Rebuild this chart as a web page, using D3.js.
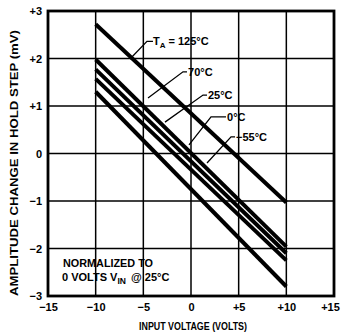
<!DOCTYPE html>
<html><head><meta charset="utf-8">
<script src="https://cdn.jsdelivr.net/npm/d3@7"></script>
<style>
html,body{margin:0;padding:0;background:#fff;}
svg{display:block;font-family:"Liberation Sans",Arial,Helvetica,sans-serif;font-weight:bold;}
</style>
</head><body>
<svg id="chart" width="341" height="333"></svg>
<script>
// Hold step vs input voltage, one line per ambient temperature
const xTicks = [-15, -10, -5, 0, 5, 10, 15];
const yTicks = [-3, -2, -1, 0, 1, 2, 3];
const xTickLabels = ["−15", "−10", "−5", "0", "+5", "+10", "+15"];
const yTickLabels = ["−3", "−2", "−1", "0", "+1", "+2", "+3"];

const vin = [-10, 10];                 // input voltage (V)
const temps = ["125°C", "70°C", "25°C", "0°C", "−55°C"];
const step125 = [2.72, -1.03];         // hold step (mV)
const step70 = [1.98, -1.96];
const step25 = [1.77, -2.10];
const step0 = [1.57, -2.25];
const stepM55 = [1.30, -2.80];
const seriesValues = [step125, step70, step25, step0, stepM55];

// Label anchors (V, mV) and leader polylines for each temperature
const labelAnchor = [[-3.99, 2.28], [-0.31, 1.63], [1.78, 1.15], [3.78, 0.68], [4.72, 0.26]];
const leaderV = [[-3.99, -4.62, -6.40], [-0.42, -0.84, -4.51], [1.68, 1.26, -2.73], [3.67, 2.10, -0.21], [4.62, 4.20, 1.68]];
const leaderMV = [[2.36, 2.36, 1.99], [1.72, 1.72, 1.17], [1.23, 1.23, 0.66], [0.77, 0.77, 0.18], [0.35, 0.35, -0.20]];

const svg = d3.select("#chart");
const x = d3.scaleLinear().domain([-15, 15]).range([48, 334]);
const y = d3.scaleLinear().domain([-3, 3]).range([296, 11]);

// grid
const g = svg.append("g");
g.selectAll(".gx").data(xTicks.slice(1, -1)).join("line")
  .attr("x1", d => x(d)).attr("x2", d => x(d))
  .attr("y1", y(3)).attr("y2", y(-3))
  .attr("stroke", "#000").attr("stroke-width", 1.5);
g.selectAll(".gy").data(yTicks.slice(1, -1)).join("line")
  .attr("y1", d => y(d)).attr("y2", d => y(d))
  .attr("x1", x(-15)).attr("x2", x(15))
  .attr("stroke", "#000").attr("stroke-width", 1.5);

// frame
g.append("rect")
  .attr("x", x(-15)).attr("y", y(3))
  .attr("width", x(15) - x(-15)).attr("height", y(-3) - y(3))
  .attr("fill", "none").attr("stroke", "#000").attr("stroke-width", 2.8);

// axes (labels only)
const xAxis = d3.axisBottom(x).tickValues(xTicks)
  .tickFormat((d, i) => xTickLabels[i]).tickSize(0).tickPadding(7);
svg.append("g").attr("transform", `translate(0,${y(-3)})`).call(xAxis)
  .call(a => a.select(".domain").remove())
  .selectAll("text").attr("font-size", 11).attr("font-family", null).attr("fill", "#000")
  .attr("dx", (d, i) => i === xTicks.length - 1 ? -4 : 0);

const yAxis = d3.axisLeft(y).tickValues(yTicks)
  .tickFormat((d, i) => yTickLabels[i]).tickSize(0).tickPadding(6);
svg.append("g").attr("transform", `translate(${x(-15)},0)`).call(yAxis)
  .call(a => a.select(".domain").remove())
  .selectAll("text").attr("font-size", 11).attr("font-family", null).attr("fill", "#000");

// data lines
const line = d3.line().x((d, i) => x(vin[i])).y(d => y(d));
svg.append("g").selectAll("path").data(seriesValues).join("path")
  .attr("d", d => line(d))
  .attr("fill", "none").attr("stroke", "#000").attr("stroke-width", 4)
  .attr("stroke-linecap", "butt");

// leaders
const leaderLine = d3.line();
svg.append("g").selectAll("path").data(leaderV).join("path")
  .attr("d", (d, i) => leaderLine(d.map((v, j) => [x(v), y(leaderMV[i][j])])))
  .attr("fill", "none").attr("stroke", "#000").attr("stroke-width", 1.3);

// temperature labels
const labels = svg.append("g").attr("font-size", 11);
temps.forEach((t, i) => {
  const tx = labels.append("text")
    .attr("x", x(labelAnchor[i][0])).attr("y", y(labelAnchor[i][1]));
  if (i === 0) {
    tx.append("tspan").text("T");
    tx.append("tspan").attr("font-size", 8).attr("dy", 3).text("A");
    tx.append("tspan").attr("dy", -3).text(" = " + t);
  } else {
    tx.text(t);
  }
});

// normalization note
const note = svg.append("g").attr("font-size", 11);
note.append("text").attr("x", 63).attr("y", 267).attr("textLength", 90)
  .attr("lengthAdjust", "spacingAndGlyphs").text("NORMALIZED TO");
const n2 = note.append("text").attr("x", 62).attr("y", 281);
n2.append("tspan").text("0 VOLTS V");
n2.append("tspan").attr("font-size", 8.5).attr("dy", 3).text("IN");
n2.append("tspan").attr("dy", -3).attr("dx", 2).text(" @ 25°C");

// axis titles
svg.append("text").attr("x", 193).attr("y", 330).attr("text-anchor", "middle")
  .attr("font-size", 10.5).attr("textLength", 108).attr("lengthAdjust", "spacingAndGlyphs")
  .text("INPUT VOLTAGE (VOLTS)");
svg.append("text").attr("transform", "translate(18,163) rotate(-90)")
  .attr("text-anchor", "middle").attr("font-size", 11)
  .attr("textLength", 266).attr("lengthAdjust", "spacingAndGlyphs")
  .text("AMPLITUDE CHANGE IN HOLD STEP (mV)");
</script>
</body></html>
